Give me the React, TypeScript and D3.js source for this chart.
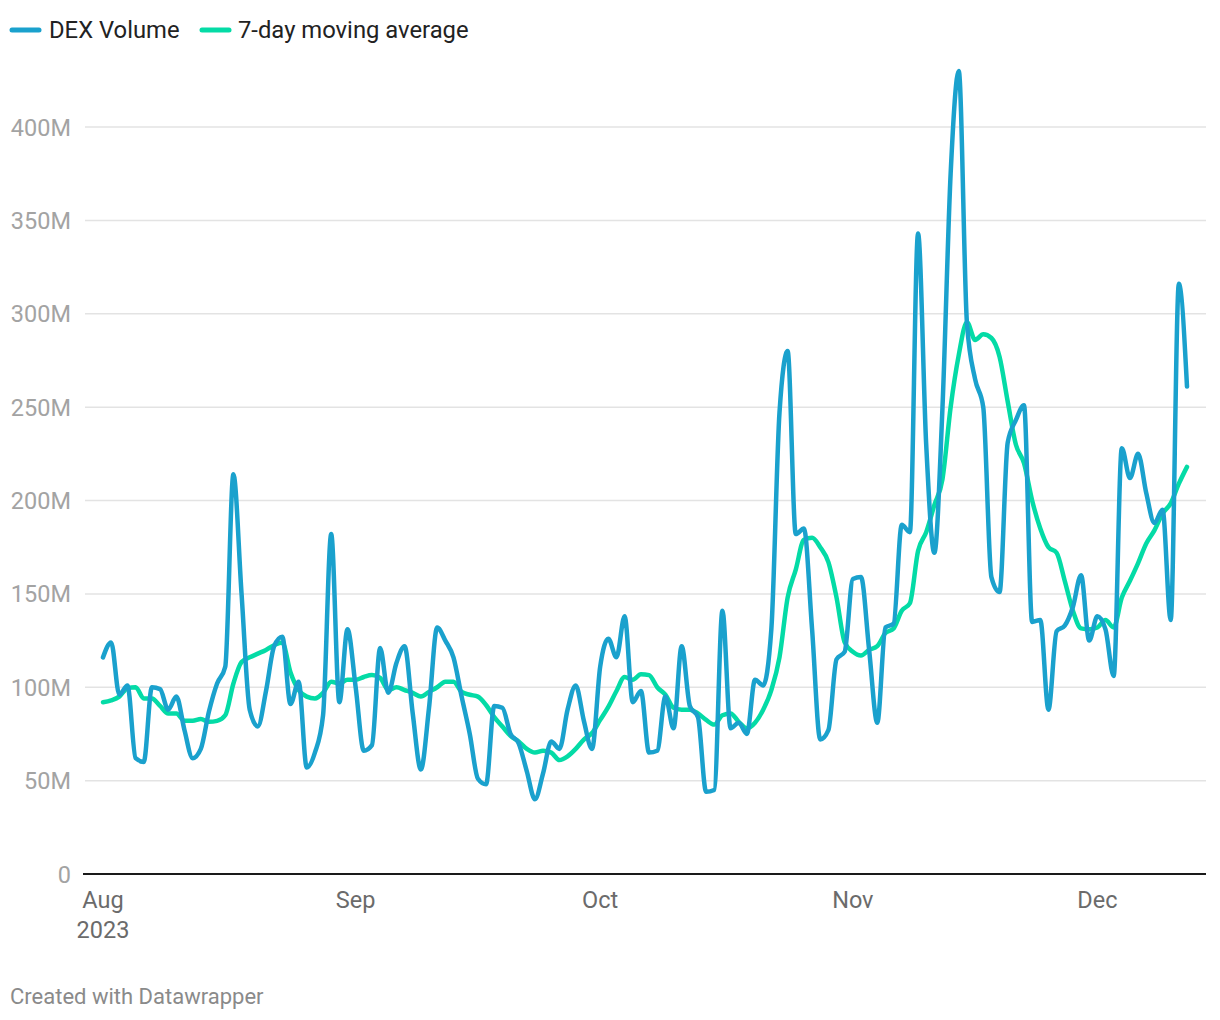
import React from "react";
import * as d3 from "d3";

const startDate = "2023-08-01";

const dexVolume: number[] = [
  116, 124, 96, 101, 62, 60, 100, 99, 88, 95,
  77, 62, 67, 87, 102, 111, 214, 150, 88, 79,
  98, 122, 127, 91, 103, 57, 65, 85, 182, 92,
  131, 100, 66, 69, 121, 97, 113, 122, 86, 56,
  89, 132, 125, 116, 95, 75, 51, 48, 90, 89,
  75, 70, 55, 40, 54, 71, 67, 88, 101, 82,
  67, 111, 126, 116, 138, 92, 98, 65, 66, 95,
  78, 122, 90, 84, 44, 45, 141, 78, 81, 75,
  104, 101, 131, 247, 280, 182, 185, 131, 72, 77,
  115, 119, 158, 159, 120, 81, 132, 134, 187, 183,
  343, 230, 172, 250, 375, 430, 295, 265, 250, 159,
  151, 231, 243, 251, 135, 136, 88, 130, 133, 143,
  160, 125, 138, 131, 106, 228, 212, 225, 204, 188,
  195, 136, 316, 261,
];

const movingAverage: number[] = [
  92, 93, 95, 99.5, 100, 94, 94, 90, 86, 86,
  82, 82, 83, 81.5, 82, 85, 102, 113.5, 116, 118,
  120, 122.5, 124, 108, 98.5, 95, 94, 97, 103, 102,
  104, 104, 105.5, 106.5, 105, 98.5, 100, 98.5, 97, 95,
  97.5, 100, 103, 103, 97.5, 96, 95, 90.5, 84, 79,
  74, 71, 67, 65, 66, 65, 61, 63, 67, 72,
  75.5, 82.5, 89.5, 98, 105.5, 104, 107, 106.5, 100, 96,
  89, 88, 88, 86, 82.5, 80, 85, 86, 81.5, 78,
  81, 88, 98.5, 116, 148, 163, 179, 180, 175, 167,
  148, 124, 119, 117, 120, 122, 129, 131.5, 141, 145,
  173, 183, 197.5, 211.5, 250, 278, 295.5, 286, 289, 287,
  277, 253, 230, 220, 200, 185, 175, 172, 157, 141,
  131.5, 131, 132, 136, 132, 148, 157, 166.5, 177, 184,
  193, 198.5, 209, 218,
];

const yTicks: number[] = [0, 50, 100, 150, 200, 250, 300, 350, 400];
const yTickLabels: string[] = ["0", "50M", "100M", "150M", "200M", "250M", "300M", "350M", "400M"];
const monthTicks: string[] = ["2023-08-01", "2023-09-01", "2023-10-01", "2023-11-01", "2023-12-01"];
const monthLabels: string[] = ["Aug", "Sep", "Oct", "Nov", "Dec"];

const seriesNames: string[] = ["DEX Volume", "7-day moving average"];
const seriesColors: string[] = ["#1aa1cd", "#04dba6"];

const W = 1220;
const H = 1020;
const FONT = "Roboto, 'Noto Sans', sans-serif";

export default function App() {
  const parse = d3.utcParse("%Y-%m-%d");
  const t0 = parse(startDate) as Date;
  const dates = dexVolume.map((_, i) => d3.utcDay.offset(t0, i));

  const x = d3
    .scaleUtc()
    .domain([dates[0], dates[dates.length - 1]])
    .range([103, 1187]);
  const y = d3.scaleLinear().domain([0, 400]).range([874, 127]);

  const line = d3
    .line<number>()
    .x((_, i) => x(dates[i]))
    .y((d) => y(d))
    .curve(d3.curveMonotoneX);

  const gridLeft = 83;
  const gridRight = 1206;

  return (
    <svg
      width={W}
      height={H}
      style={{ position: "absolute", left: 0, top: 0, background: "#fff" }}
      fontFamily={FONT}
    >
      <rect x={0} y={0} width={W} height={H} fill="#fff" />
      {/* legend */}
      <g>
        <line x1={12} x2={39} y1={30} y2={30} stroke={seriesColors[0]} strokeWidth={5} strokeLinecap="round" />
        <text x={49} y={38} fontSize={23.8} fill="#222">{seriesNames[0]}</text>
        <line x1={202} x2={229} y1={30} y2={30} stroke={seriesColors[1]} strokeWidth={5} strokeLinecap="round" />
        <text x={238} y={38} fontSize={23.8} fill="#222">{seriesNames[1]}</text>
      </g>
      {/* grid + y labels */}
      <g>
        {yTicks.map((t) =>
          t === 0 ? null : (
            <line key={"g" + t} x1={gridLeft + 2} x2={gridRight} y1={y(t)} y2={y(t)} stroke="#e3e3e3" strokeWidth={1.5} />
          )
        )}
        {yTicks.map((t, i) => (
          <text
            key={"l" + t}
            x={71}
            y={y(t) + 8.5}
            textAnchor="end"
            fontSize={23.5}
            fill="#a3a3a3"
          >
            {yTickLabels[i]}
          </text>
        ))}
      </g>
      {/* baseline */}
      <line x1={gridLeft} x2={gridRight} y1={y(0)} y2={y(0)} stroke="#1a1a1a" strokeWidth={2} />
      {/* x labels */}
      <g>
        {monthTicks.map((m, i) => {
          const px = x(parse(m) as Date);
          return (
            <g key={m}>
              <text x={px} y={908} textAnchor="middle" fontSize={23.5} fill="#6b6b6b">
                {monthLabels[i]}
              </text>
              {i === 0 ? (
                <text x={px} y={938} textAnchor="middle" fontSize={23.5} fill="#6b6b6b">
                  2023
                </text>
              ) : null}
            </g>
          );
        })}
      </g>
      {/* lines */}
      <path d={line(movingAverage) || ""} fill="none" stroke={seriesColors[1]} strokeWidth={4.5} strokeLinejoin="round" strokeLinecap="round" />
      <path d={line(dexVolume) || ""} fill="none" stroke={seriesColors[0]} strokeWidth={4.5} strokeLinejoin="round" strokeLinecap="round" />
      {/* footer */}
      <text x={10} y={1004} fontSize={22} fill="#8a8a8a">
        Created with Datawrapper
      </text>
    </svg>
  );
}
